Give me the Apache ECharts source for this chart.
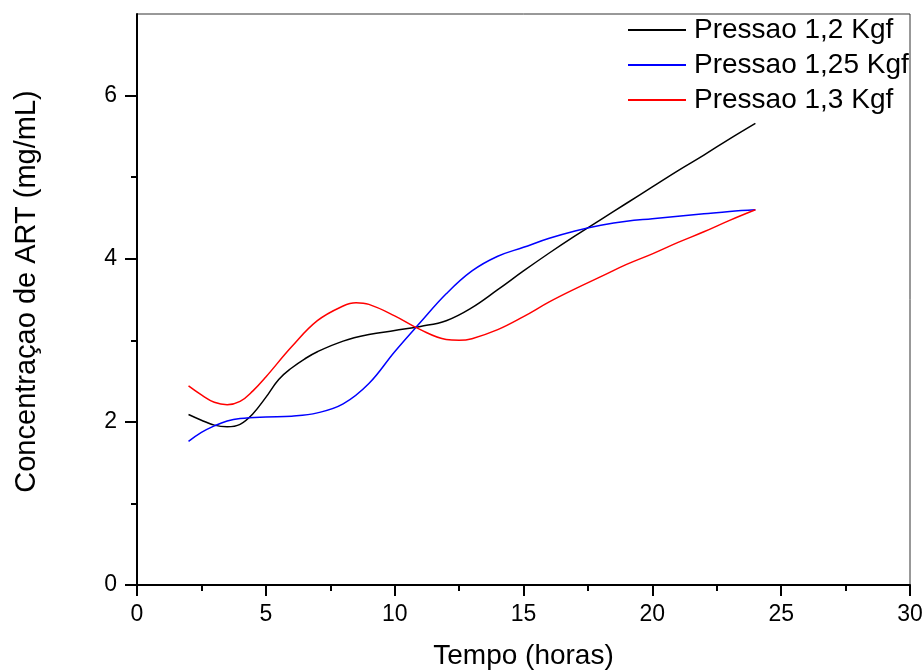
<!DOCTYPE html>
<html><head><meta charset="utf-8">
<script src="https://cdn.jsdelivr.net/npm/echarts@6/dist/echarts.min.js"></script>
<style>html,body{margin:0;padding:0;background:#fff}#c{width:923px;height:671px}</style>
</head><body><div id="c"></div>
<script>
const xTitle = 'Tempo (horas)';
const yTitle = 'Concentraçao de ART (mg/mL)';
const seriesNames = ['Pressao 1,2 Kgf', 'Pressao 1,25 Kgf', 'Pressao 1,3 Kgf'];
const yMajorTicks = [0, 2, 4, 6];
const yMinorTicks = [1, 3, 5];

const xBlack = [2, 2.5, 3, 3.5, 4, 4.5, 5, 5.5, 6, 6.5, 7, 8, 9, 10, 11, 12, 13, 14, 15, 16, 17, 18, 19, 20, 21, 22, 23, 24];
const yBlack = [2.09, 2.02, 1.96, 1.94, 1.97, 2.1, 2.3, 2.52, 2.66, 2.77, 2.86, 2.99, 3.07, 3.12, 3.17, 3.24, 3.4, 3.62, 3.85, 4.07, 4.28, 4.48, 4.68, 4.88, 5.08, 5.27, 5.47, 5.66];

const xBlue = [2, 2.5, 3, 3.5, 4, 5, 6, 7, 8, 9, 10, 11, 12, 13, 14, 15, 16, 17, 18, 19, 20, 21, 22, 23, 24];
const yBlue = [1.76, 1.87, 1.95, 2.01, 2.04, 2.06, 2.07, 2.11, 2.22, 2.47, 2.86, 3.22, 3.57, 3.85, 4.03, 4.14, 4.25, 4.34, 4.41, 4.46, 4.49, 4.52, 4.55, 4.58, 4.6];

const xRed = [2, 2.5, 3, 3.5, 4, 4.5, 5, 6, 7, 8, 8.5, 9, 10, 11, 12, 12.5, 13, 14, 15, 16, 17, 18, 19, 20, 21, 22, 23, 24];
const yRed = [2.44, 2.33, 2.24, 2.21, 2.25, 2.38, 2.55, 2.92, 3.24, 3.42, 3.46, 3.44, 3.3, 3.13, 3.01, 3.0, 3.02, 3.13, 3.29, 3.47, 3.63, 3.78, 3.93, 4.06, 4.2, 4.33, 4.47, 4.6];

const colors = ['#000000', '#0000ff', '#ff0000'];
const xs = [xBlack, xBlue, xRed];
const ys = [yBlack, yBlue, yRed];

const font = 'Arial, "Liberation Sans", sans-serif';
const chart = echarts.init(document.getElementById('c'));
chart.setOption({
  animation: false,
  backgroundColor: '#fff',
  grid: {left: 137, right: 13, top: 14, bottom: 86, containLabel: false, outerBoundsMode: 'none',
         show: true, borderColor: '#333', borderWidth: 1, backgroundColor: 'transparent'},
  legend: {
    left: 622, top: 11, orient: 'vertical', itemWidth: 58, itemHeight: 14, itemGap: 7,
    itemStyle: {color: 'rgba(0,0,0,0)', borderColor: 'rgba(0,0,0,0)', borderWidth: 0},
    textStyle: {fontFamily: font, fontSize: 28, color: '#000', padding: [0, 0, 0, 3]},
    data: seriesNames
  },
  xAxis: {
    type: 'value', min: 0, max: 30, interval: 5,
    name: xTitle, nameLocation: 'middle', nameGap: 57,
    nameTextStyle: {fontFamily: font, fontSize: 28, color: '#000'},
    axisLine: {lineStyle: {color: '#000', width: 2}},
    axisTick: {show: true, inside: false, length: 11, lineStyle: {color: '#000', width: 2}},
    minorTick: {show: true, splitNumber: 2, length: 6, lineStyle: {color: '#000', width: 2}},
    splitLine: {show: false},
    axisLabel: {fontFamily: font, fontSize: 23, color: '#000', margin: 18}
  },
  yAxis: [{
    type: 'value', min: 0, max: 7, interval: 1,
    name: yTitle, nameLocation: 'middle', nameGap: 96, nameRotate: 90,
    nameTextStyle: {fontFamily: font, fontSize: 29, color: '#000', padding: [0, 0, 0, 16]},
    axisLine: {show: true, lineStyle: {color: '#000', width: 2}},
    axisTick: {show: true, inside: false, length: 12, customValues: yMajorTicks, lineStyle: {color: '#000', width: 2}},
    splitLine: {show: false},
    axisLabel: {fontFamily: font, fontSize: 23, color: '#000', margin: 20, customValues: yMajorTicks}
  }, {
    type: 'value', min: 0, max: 7, interval: 1, position: 'left',
    axisLine: {show: false},
    axisTick: {show: true, inside: false, length: 6, customValues: yMinorTicks, lineStyle: {color: '#000', width: 2}},
    splitLine: {show: false},
    axisLabel: {show: false}
  }],
  series: seriesNames.map((n, i) => ({
    name: n, type: 'line', smooth: 0.4, symbol: 'none', yAxisIndex: 0,
    lineStyle: {color: colors[i], width: 1.5},
    itemStyle: {color: colors[i]},
    data: xs[i].map((x, j) => [x, ys[i][j]])
  }))
});
</script></body></html>
